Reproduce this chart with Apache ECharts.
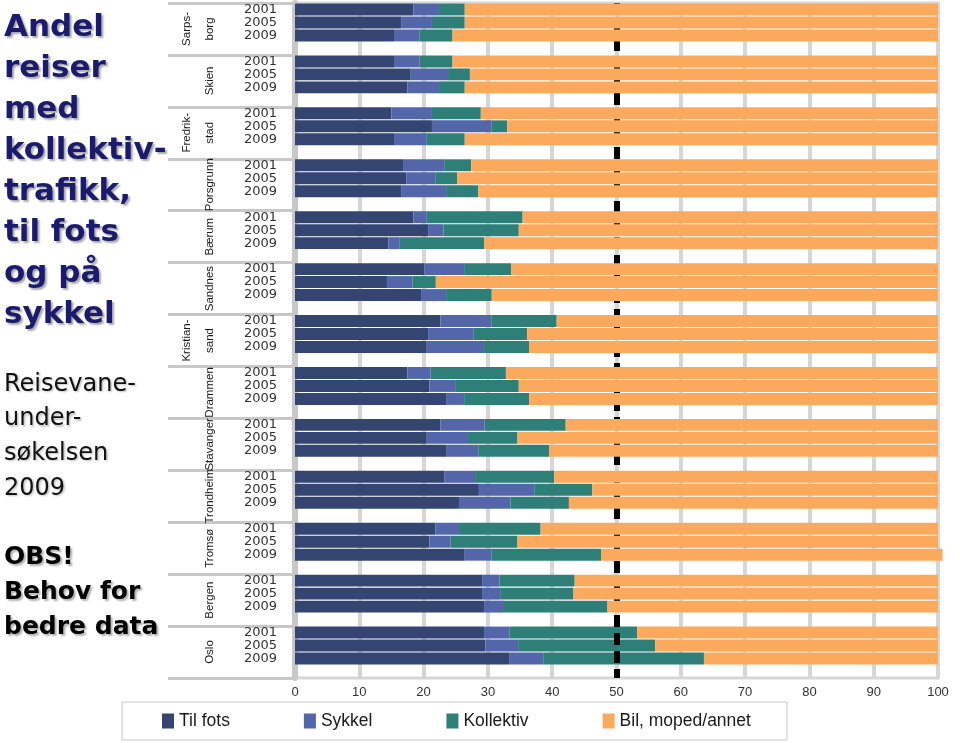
<!DOCTYPE html>
<html>
<head>
<meta charset="utf-8">
<script src="https://cdn.jsdelivr.net/npm/echarts@6/dist/echarts.min.js"></script>
<style>
html,body{margin:0;padding:0;background:#fff;}
#chart{width:960px;height:743px;}
</style>
</head>
<body>
<div id="chart"></div>
<script>
// ---- data ----
const cities = ["Sarps-\nborg","Skien","Fredrik-\nstad","Porsgrunn","Bærum","Sandnes","Kristian-\nsand","Drammen","Stavanger","Trondheim","Tromsø","Bergen","Oslo"];
const years = ["2001","2005","2009"];
const seriesNames = ["Til fots","Sykkel","Kollektiv","Bil, moped/annet"];
// values per city, in order 2001, 2005, 2009 (percent)
const tilFots = [
  18.4,16.5,15.4,  15.4,18.0,17.5,  15.0,21.3,15.4,  16.8,17.3,16.5,
  18.4,20.7,14.5,  20.1,14.3,19.6,  22.6,20.7,20.5,  17.5,20.9,23.6,
  22.6,20.5,23.6,  23.2,28.6,25.5,  21.8,20.9,26.4,  29.1,29.2,29.4,
  29.4,29.6,33.4
];
const sykkel = [
  4.0,4.8,4.0,  4.0,5.8,4.9,  6.3,9.3,5.1,  6.4,4.5,7.0,
  2.1,2.4,1.8,  6.2,4.0,3.9,  8.0,7.1,8.9,  3.6,4.0,2.7,
  6.9,6.4,4.9,  4.8,8.6,8.0,  3.7,3.3,4.2,  2.7,2.7,3.1,
  4.0,5.1,5.2
];
const kollektiv = [
  4.0,5.1,5.1,  5.1,3.4,4.0,  7.6,2.4,5.9,  4.2,3.4,5.0,
  14.9,11.7,13.1,  7.3,3.6,7.1,  10.1,8.3,7.0,  11.7,9.9,10.1,
  12.6,7.7,11.0,  12.3,9.0,9.1,  12.7,10.4,17.0,  11.7,11.4,16.1,
  19.8,21.3,25.0
];
const bil = [
  73.6,73.6,75.5,  75.5,72.8,73.6,  71.1,67.0,73.6,  72.6,74.8,71.5,
  64.6,65.2,70.6,  66.4,78.1,69.4,  59.3,63.9,63.6,  67.2,65.2,63.6,
  57.9,65.4,60.5,  59.7,53.8,57.4,  61.8,65.4,53.1,  56.5,56.7,51.4,
  46.8,44.0,36.4
];
const refLine = 50;
const xMin = 0, xMax = 100, xStep = 10;

const colors = ["#334570","#5266a9","#2f7f79","#fbaa5d"];

// build category rows: 3 years + 1 empty gap row per city
const rowKeys = [];
const rowLabels = [];
cities.forEach((c, i) => {
  years.forEach(y => { rowKeys.push(c + " " + y); rowLabels.push(y); });
  rowKeys.push(c + " gap"); rowLabels.push("");
});
function rows(arr) {
  const out = [];
  cities.forEach((c, i) => {
    years.forEach((y, j) => out.push(arr[i * 3 + j]));
    out.push("-");
  });
  return out;
}
const allValues = [tilFots, sykkel, kollektiv, bil];

const chart = echarts.init(document.getElementById('chart'), null, {renderer: 'canvas'});

const series = seriesNames.map((name, k) => ({
  name: name,
  type: 'bar',
  stack: 'total',
  yAxisIndex: 0,
  data: rows(allValues[k]),
  itemStyle: {color: colors[k]},
  barCategoryGap: '8%',
  clip: false,
  silent: true,
  animation: false
}));
series[3].markLine = {
  silent: true,
  symbol: 'none',
  animation: false,
  label: {show: false},
  lineStyle: {color: '#000', width: 6, type: [12, 6]},
  data: [{xAxis: refLine}]
};
series[3].z = 5;

const option = {
  animation: false,
  backgroundColor: '#fff',
  title: [
    {
      text: "Andel\nreiser\nmed\nkollektiv-\ntrafikk,\ntil fots\nog på\nsykkel",
      left: 4, top: 7,
      textStyle: {
        fontFamily: 'DejaVu Sans', fontWeight: 'bold', fontSize: 31, lineHeight: 41.1,
        color: '#1b1b6e',
        textShadowColor: 'rgba(0,0,0,0.35)', textShadowBlur: 2, textShadowOffsetX: 2, textShadowOffsetY: 2
      },
      padding: 0
    },
    {
      text: "Reisevane-\nunder-\nsøkelsen\n2009",
      left: 4, top: 367,
      textStyle: {
        fontFamily: 'DejaVu Sans', fontWeight: 'normal', fontSize: 24, lineHeight: 34.7,
        color: '#111',
        textShadowColor: 'rgba(0,0,0,0.25)', textShadowBlur: 2, textShadowOffsetX: 1.5, textShadowOffsetY: 1.5
      },
      padding: 0
    },
    {
      text: "OBS!\nBehov for\nbedre data",
      left: 4, top: 540,
      textStyle: {
        fontFamily: 'DejaVu Sans', fontWeight: 'bold', fontSize: 25, lineHeight: 35,
        color: '#000',
        textShadowColor: 'rgba(0,0,0,0.3)', textShadowBlur: 2, textShadowOffsetX: 2, textShadowOffsetY: 2
      },
      padding: 0
    }
  ],
  legend: {
    data: seriesNames,
    left: 122, top: 702,
    orient: 'horizontal',
    itemWidth: 12, itemHeight: 15, itemGap: 74,
    icon: 'rect',
    padding: [10, 36, 10, 40],
    borderColor: '#c8c8c8', borderWidth: 1,
    backgroundColor: '#fff',
    textStyle: {fontFamily: 'Liberation Sans', fontSize: 17.5, color: '#1a1a1a'},
    selectedMode: false
  },
  grid: {
    left: 295, right: 22, top: 3, bottom: 65,
    show: true, borderColor: '#d6d6d6', borderWidth: 3,
    containLabel: false
  },
  xAxis: {
    type: 'value',
    min: xMin, max: xMax, interval: xStep,
    axisLine: {show: false},
    axisTick: {show: false},
    splitLine: {show: true, lineStyle: {color: '#d6d6d6', width: 4}},
    axisLabel: {fontFamily: 'Liberation Sans', fontSize: 13, color: '#333', margin: 8}
  },
  yAxis: [
    {
      type: 'category',
      data: rowKeys,
      inverse: true,
      position: 'left',
      offset: 3,
      axisLine: {show: true, lineStyle: {color: '#c8c8c8', width: 6}},
      axisTick: {show: false},
      splitLine: {show: false},
      axisLabel: {
        interval: 0, margin: 15,
        fontFamily: 'DejaVu Sans', fontSize: 13, color: '#333',
        formatter: (v, idx) => rowLabels[idx]
      }
    },
    {
      type: 'category',
      data: cities,
      inverse: true,
      position: 'left',
      offset: 0,
      axisLine: {show: false},
      axisTick: {show: true, length: 127, lineStyle: {color: '#c8c8c8', width: 3}},
      splitLine: {show: false},
      axisLabel: {
        interval: 0, rotate: 90, margin: 74,
        fontFamily: 'Liberation Sans', fontSize: 11.5,
        lineHeight: 23, color: '#1a1a1a'
      }
    }
  ],
  series: series
};
chart.setOption(option);
</script>
</body>
</html>
